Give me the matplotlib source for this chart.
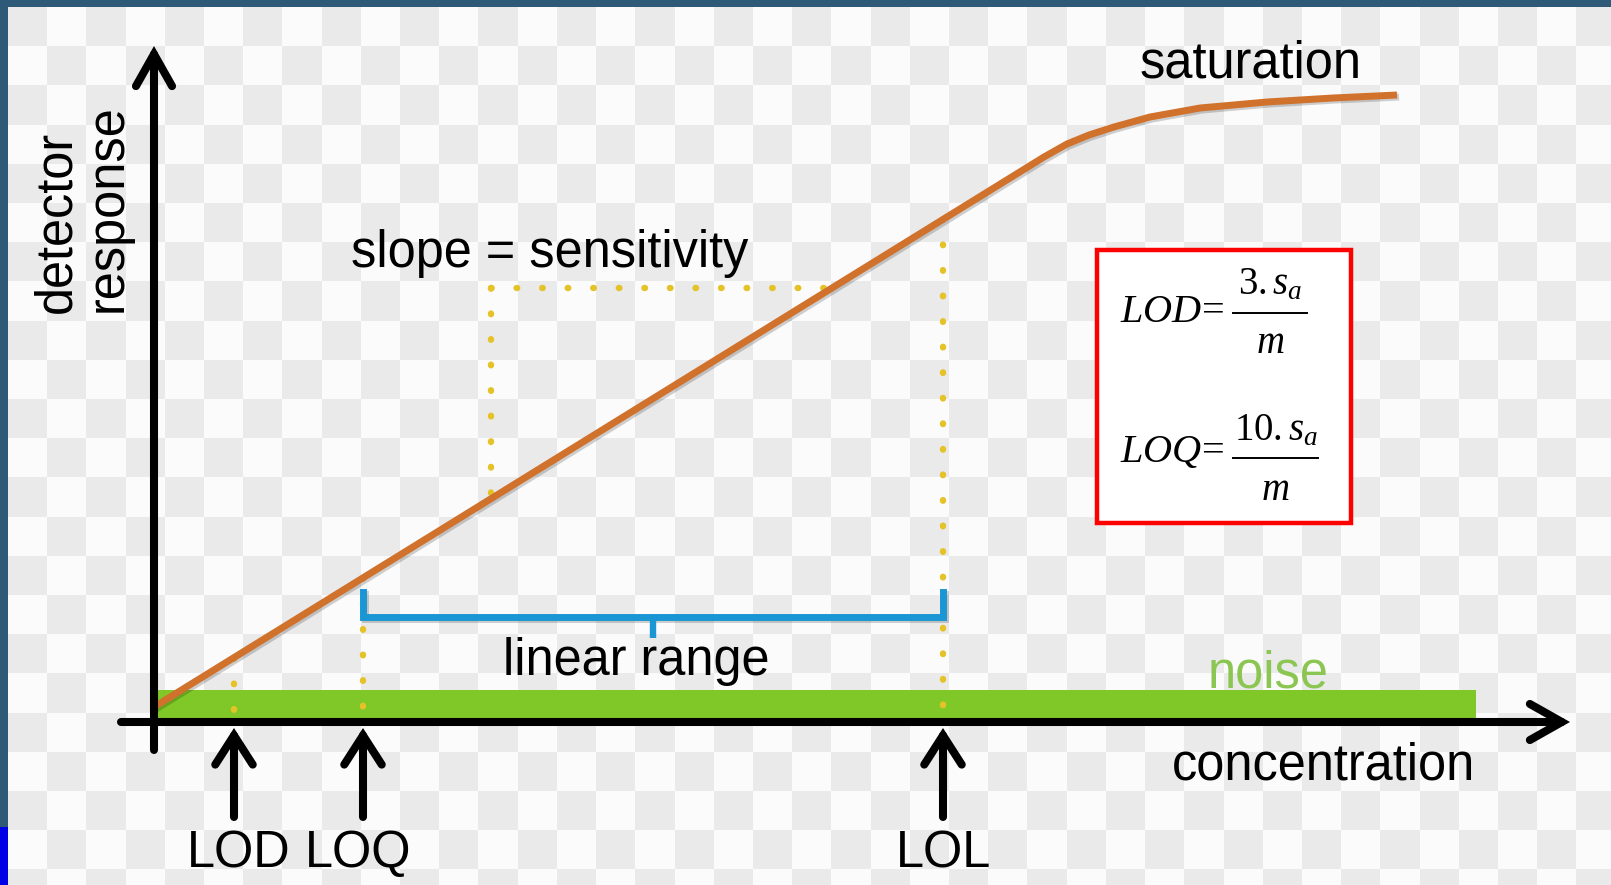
import numpy as np
import matplotlib
matplotlib.use("Agg")
import matplotlib.pyplot as plt
from matplotlib.colors import ListedColormap
from matplotlib.patches import Rectangle
import matplotlib.patheffects as pe

# Calibration curve: detector response vs. concentration (arbitrary units)
concentration = [0.0, 89.0, 91.3, 93.5, 96.0, 99.6, 104.6, 111.3, 117.9, 124.3]
response = [1.5, 56.5, 57.8, 58.7, 59.5, 60.5, 61.4, 62.0, 62.4, 62.7]

# Limits marked on the concentration axis
limit_names = ["LOD", "LOQ", "LOL"]
limit_conc = [8.0, 20.9, 78.9]

# Noise band along the baseline
noise_conc = [0.0, 132.2]
noise_low, noise_high = 0.4, 3.2

# Slope construction (right angle under the calibration line)
slope_x0 = 33.7
slope_y1 = 43.4

# Formulas: left-hand side, numerator, denominator
formula_lhs = [r"$LOD\!=$", r"$LOQ\!=$"]
formula_num = [r"$3.s_a$", r"$10.s_a$"]
formula_den = [r"$m$", r"$m$"]

plt.rcParams["font.family"] = ["Liberation Sans", "DejaVu Sans"]
plt.rcParams["mathtext.fontset"] = "custom"
plt.rcParams["mathtext.rm"] = "Liberation Serif"
plt.rcParams["mathtext.it"] = "Liberation Serif:italic"
plt.rcParams["mathtext.bf"] = "Liberation Serif:bold"

ORANGE = "#d0712c"
GREEN = "#80c828"
NOISE_TXT = "#8cc652"
BLUE = "#1b96d4"
YELLOW = "#e6c229"
FS = 36.4

fig = plt.figure(figsize=(16.11, 8.85), dpi=100)
fig.patch.set_facecolor("#2e5a78")
ax = fig.add_axes([0, 0, 1, 1])
ax.axis("off")

XL, XR = -15.4, 145.7
YB, YT = -16.3, 72.2

# checkerboard backdrop
sq = 3.92
nx, ny = 41, 23
left, top = -14.65, 71.5
board = (np.add.outer(np.arange(ny), np.arange(nx)) % 2 == 0).astype(float)
ax.imshow(board, cmap=ListedColormap(["#fbfbfb", "#eaeaea"]),
          extent=(left, left + nx * sq, top - ny * sq, top),
          origin="upper", interpolation="nearest", aspect="auto", zorder=0)

fig.patches.append(Rectangle((0, 0), 7.5 / 1611, 58 / 885, transform=fig.transFigure,
                             facecolor="#0000e6", edgecolor="none", zorder=-1))

# noise band
ax.fill_between(noise_conc, noise_low, noise_high, color=GREEN, lw=0, zorder=2)

# dotted guides
dot = dict(color=YELLOW, lw=4.6, linestyle=(0, (0.1, 3.9)),
           dash_capstyle="round", zorder=3)
for xc in limit_conc:
    ax.plot([xc, xc], [np.interp(xc, concentration, response), 0.3], **dot)
slope_y0 = np.interp(slope_x0, concentration, response)
slope_x1 = np.interp(slope_y1, response, concentration)
ax.plot([slope_x0, slope_x1], [slope_y1, slope_y1], **dot)
ax.plot([slope_x0, slope_x0], [slope_y1, slope_y0], **dot)

# calibration curve
shadow = [pe.SimpleLineShadow(offset=(1.5, -1.5), alpha=0.18), pe.Normal()]
ax.plot(concentration, response, color=ORANGE, lw=5.0, solid_capstyle="butt",
        solid_joinstyle="round", zorder=5, path_effects=shadow)

# linear range bracket
lo, hi = limit_conc[1], limit_conc[2]
mid = (lo + hi) / 2
ax.plot([lo, lo, hi, hi], [13.0, 10.5, 10.5, 13.0], color=BLUE, lw=5.0,
        solid_joinstyle="miter", zorder=4, path_effects=shadow)
ax.plot([mid, mid], [10.5, 8.4], color=BLUE, lw=4.6, solid_capstyle="butt", zorder=4)

# axes arrows
arrow = dict(arrowstyle="->,head_length=2.3,head_width=1.3", lw=5.8, color="black",
             shrinkA=0, shrinkB=0, joinstyle="miter")
ax.annotate("", xy=(0, 67.6), xytext=(0, -2.8), arrowprops=arrow, zorder=6)
ax.annotate("", xy=(141.6, 0), xytext=(-3.3, 0), arrowprops=arrow, zorder=6)

# limit markers
mark = dict(arrowstyle="->,head_length=2.1,head_width=1.35", lw=5.8, color="black",
            shrinkA=0, shrinkB=0, joinstyle="miter")
label_shift = [0.5, -0.5, 0.0]
for name, xc, dx in zip(limit_names, limit_conc, label_shift):
    ax.annotate("", xy=(xc, -0.6), xytext=(xc, -9.5), arrowprops=mark, zorder=6)
    ax.text(xc + dx, -14.5, name, fontsize=FS, ha="center", va="baseline", zorder=7)

# labels
ax.text(-8.4, 40.9, "detector", fontsize=FS, rotation=90, rotation_mode="anchor",
        ha="left", va="baseline")
ax.text(-3.2, 41.0, "response", fontsize=FS, rotation=90, rotation_mode="anchor",
        ha="left", va="baseline")
ax.text(101.8, -5.8, "concentration", fontsize=FS, ha="left", va="baseline")
ax.text(98.6, 64.5, "saturation", fontsize=FS, ha="left", va="baseline")
ax.text(19.7, 45.5, "slope = sensitivity", fontsize=FS, ha="left", va="baseline")
ax.text(34.9, 4.7, "linear range", fontsize=FS, ha="left", va="baseline", zorder=7)
ax.text(105.4, 3.5, "noise", fontsize=FS, ha="left", va="baseline", color=NOISE_TXT, zorder=7)

# formula box
ax.add_patch(Rectangle((94.3, 19.9), 25.4, 27.3, facecolor="white",
                       edgecolor="#ff0000", lw=3.2, zorder=8))
lhs_y = [40.0, 26.0]
bar_y = [40.9, 26.4]
bar_x = [(107.9, 115.3), (107.9, 116.4)]
num_y = [42.8, 28.2]
den_y = [36.9, 22.2]
FF = 29
for lhs, num, den, ly, by, (bx0, bx1), ny_, dy in zip(
        formula_lhs, formula_num, formula_den, lhs_y, bar_y, bar_x, num_y, den_y):
    ax.text(96.6, ly, lhs, fontsize=FF, ha="left", va="baseline", zorder=9)
    ax.plot([bx0, bx1], [by, by], color="black", lw=1.4, zorder=9)
    cx = (bx0 + bx1) / 2
    ax.text(cx, ny_, num, fontsize=FF - 1, ha="center", va="baseline", zorder=9)
    ax.text(cx, dy, den, fontsize=FF - 1, ha="center", va="baseline", zorder=9)

ax.set_xlim(XL, XR)
ax.set_ylim(YB, YT)

fig.savefig("out.png", dpi=100, facecolor=fig.get_facecolor())
